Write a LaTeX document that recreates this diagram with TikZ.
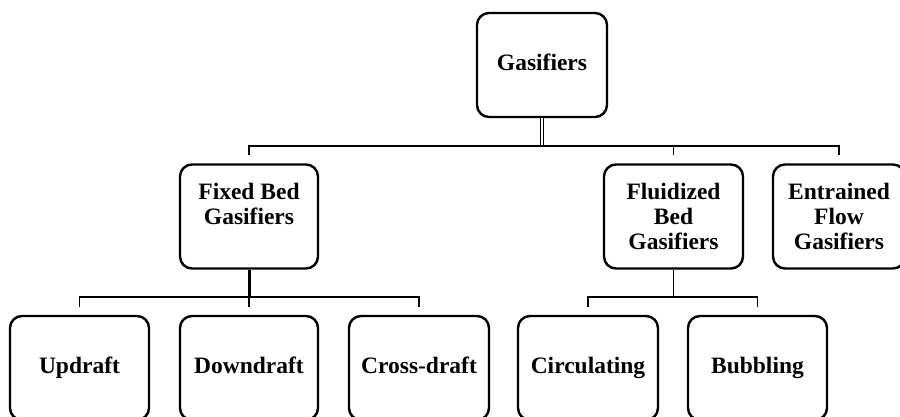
\documentclass[tikz,border=0pt]{standalone}
\usepackage{fontspec}
\setmainfont{Liberation Serif}
\usepackage{tikz}
\usetikzlibrary{calc}
\tikzset{
  gbox/.style={draw,line width=2.4pt,rounded corners=12pt,align=center,
               minimum height=104pt,inner sep=2pt,
               font=\fontsize{23.5}{25}\selectfont\bfseries},
  oneline/.style={text height=16pt,text depth=5pt},
  link/.style={line width=1.8pt}
}

\begin{document}
\begin{tikzpicture}[x=1pt,y=-1pt]
\useasboundingbox (0,0) rectangle (900,416);
\clip (0,0) rectangle (900,416);
% Top box
\node[gbox,oneline,minimum width=130pt] (gas) at (542,65) {Gasifiers};
% Second level
\node[gbox,minimum width=138pt] (fixed) at (249,216.5) {Fixed Bed\\Gasifiers\\~};
\node[gbox,minimum width=139pt] (fluid) at (673.5,216.5) {Fluidized\\Bed\\Gasifiers};
\node[gbox,minimum width=132pt] (entr) at (839,216.5) {Entrained\\Flow\\Gasifiers};
% Third level: the boxes run past the bottom edge
\node[gbox,oneline,minimum width=139pt] (up) at (79.5,368) {Updraft};
\node[gbox,oneline,minimum width=138pt] (down) at (249,368) {Downdraft};
\node[gbox,oneline,minimum width=140pt] (cross) at (419,368) {Cross-draft};
\node[gbox,oneline,minimum width=140pt] (circ) at (588,368) {Circulating};
\node[gbox,oneline,minimum width=139pt] (bub) at (757.5,368) {Bubbling};
% Branch points of the brackets
\coordinate (hub1) at ([yshift=-28pt]gas.south);
\coordinate (hub2) at ([yshift=-27pt]fixed.south);
\coordinate (hub3) at ([yshift=-27pt]fluid.south);
% Gasifiers to the three kinds
\draw[link,line width=0.9pt,double,double distance=1.6pt] (gas.south) -- (hub1);
\draw[link] ([yshift=8pt]fixed.north) |- (hub1) -| ([yshift=8pt]entr.north);
\draw[link] ([yshift=8pt]fluid.north) -- (fluid.north |- hub1);
% Fixed bed to its three types
\draw[link,line width=3pt] (fixed.south) -- (hub2);
\draw[link] ([yshift=8pt]up.north) |- (hub2) -| ([yshift=8pt]cross.north);
\draw[link] ([yshift=8pt]down.north) -- (down.north |- hub2);
% Fluidized bed to its two types
\draw[link] (fluid.south) -- (hub3);
\draw[link] ([yshift=8pt]circ.north) |- (hub3) -| ([yshift=8pt]bub.north);
\end{tikzpicture}
\end{document}
